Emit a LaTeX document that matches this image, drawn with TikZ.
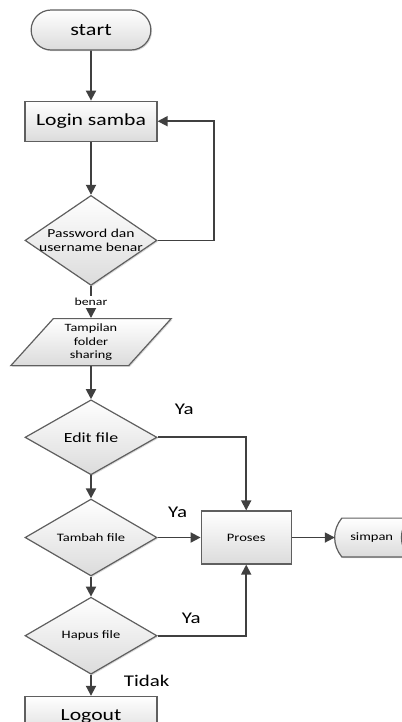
\documentclass[tikz,border=0pt]{standalone}
\usepackage{fontspec}
\setmainfont{Carlito}[FakeStretch=1.28]
\usetikzlibrary{
  graphs,
  positioning,
  arrows.meta,
  shapes.geometric,
  shapes.misc,
  shadows,
}
\definecolor{garisc}{HTML}{404040}
\definecolor{tepic}{HTML}{5F5F5F}
\tikzset{
  isi/.style={
    draw=tepic,
    line width=0.6bp,
    top color=white,
    bottom color=black!14,
    drop shadow={shadow xshift=0.6bp, shadow yshift=-0.6bp, opacity=0.3}
  },
  meta box/.style={
    isi,
    align=center
  },
  ujung/.style={
    meta box,
    rounded rectangle,
    minimum width=66.5bp,
    minimum height=20bp,
    font=\fontsize{8.7}{10.4}\selectfont
  },
  kotak/.style={
    meta box,
    rectangle,
    minimum width=66bp,
    minimum height=20bp,
    font=\fontsize{8.5}{10.2}\selectfont
  },
  pilih/.style={
    meta box,
    diamond,
    aspect=1.7,
    inner sep=0pt,
    minimum width=66bp,
    minimum height=38.5bp,
    font=\fontsize{5.7}{6.8}\selectfont
  },
  layar/.style={
    meta box,
    trapezium,
    trapezium left angle=52.5,
    trapezium right angle=127.5,
    trapezium stretches=true,
    inner sep=1bp,
    minimum width=80.5bp,
    minimum height=23.5bp,
    font=\fontsize{5.6}{7}\selectfont
  },
  simpanan/.style={
    rectangle,
    minimum width=36.5bp,
    minimum height=19bp,
    font=\fontsize{5.7}{6.8}\selectfont
  },
  garis/.style={draw=garisc, line width=0.9bp},
  lbl/.style={inner sep=0pt, font=\fontsize{8.2}{9.8}\selectfont}
}

\begin{document}
\begin{tikzpicture}[x=1bp, y=1bp, >={Triangle[length=5bp, width=5bp]}]
  \useasboundingbox (0,0) rectangle (201,-361);
  \node[ujung] (start) at (45.5,-15) {start};
  \node[kotak, below=25bp of start]  (login) {Login samba};
  \node[pilih, minimum height=45bp, inner xsep=-3bp, font=\fontsize{6.1}{7.3}\selectfont,
        below=26.5bp of login] (pwd) {Password dan\\username benar};
  \node[layar, below=16bp of pwd]    (tampil) {Tampilan\\folder\\sharing};
  \node[pilih, minimum height=37.5bp, font=\fontsize{7}{8.4}\selectfont,
        below=16.5bp of tampil] (edit) {Edit file};
  \node[pilih, below=11.5bp of edit]  (tambah) {Tambah file};
  \node[pilih, below=10bp of tambah]  (hapus) {Hapus file};
  \node[kotak, below=10.5bp of hapus] (logout) {Logout};
  \node[kotak, minimum width=45bp, minimum height=26.5bp, font=\fontsize{5.7}{6.8}\selectfont,
        right=21.5bp of tambah] (proses) {Proses};
  % stored data: kedua sisi melengkung
  \node[simpanan, right=21.5bp of proses] (simpan) {};
  \path[isi] ([xshift=3.5bp]simpan.north west) -- (simpan.north east)
    to[bend right=39] (simpan.south east) -- ([xshift=3.5bp]simpan.south west)
    to[bend left=39] cycle;
  \node[simpanan] at (simpan) {simpan};

  \graph[edges=garis]{
    (start) -> (login) -> (pwd);
    (tampil) -> (edit) -> (tambah) -> (hapus);
  };
  % cabang dan label
  \draw[garis, ->] (proses) -- (simpan.west);
  \draw[garis, ->] (pwd.east) -- ++(28bp,0) |- (login.east);
  \draw[garis, ->] (pwd) -- node[fill=white, inner sep=1bp, font=\fontsize{5.4}{6.5}\selectfont] {benar} (tampil);
  \draw[garis, ->] (edit.east) -| node[lbl, pos=0.15, above=11.1bp] {Ya} (proses.north);
  \draw[garis, ->] (tambah) -- node[lbl, pos=0.465, above=9.3bp] {Ya} (proses);
  \draw[garis, ->] (hapus.east) -| node[lbl, pos=0.19, above=5.6bp] {Ya} (proses.south);
  \draw[garis, ->] (hapus) -- node[lbl, pos=0.29, anchor=west, xshift=16bp] {Tidak} (logout);
\end{tikzpicture}
\end{document}
